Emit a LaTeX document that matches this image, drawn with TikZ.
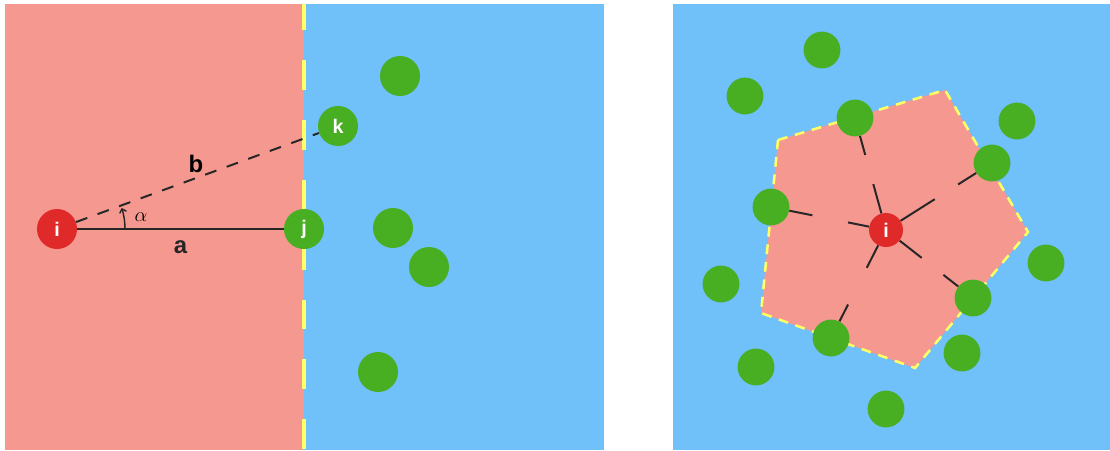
\documentclass[tikz,border=0pt]{standalone}
\usepackage{fontspec}
\setsansfont{Liberation Sans}
\usepackage{tikz}
\usetikzlibrary{calc,arrows.meta}
\definecolor{insidebg}{HTML}{F49890}
\definecolor{outsidebg}{HTML}{70C0FA}
\definecolor{nbgreen}{HTML}{48AE22}
\definecolor{refred}{HTML}{E02A2A}
\definecolor{edgeyellow}{HTML}{FFFF66}
\definecolor{linkgray}{HTML}{262626}

\begin{document}
\begin{tikzpicture}[x=0.025cm, y=-0.025cm,
  atom/.style={circle, inner sep=0pt, minimum size=1cm, text=white, font=\sffamily\bfseries\fontsize{14}{14}\selectfont},
  refatom/.style={atom, fill=refred},
  nbatom/.style={atom, fill=nbgreen},
  smallatom/.style={minimum size=0.92cm},
  link/.style={linkgray, line width=1.4pt},
  border/.style={edgeyellow, line width=2.8pt, dash pattern=on 21.3pt off 21.3pt, dash phase=2.85pt},
  lbl/.style={font=\sffamily\bfseries\fontsize{17}{17}\selectfont}]
  \useasboundingbox (0,0) rectangle (1110,450);

  % Left panel: flat interface
  \fill[insidebg] (5,4) rectangle (304,450);
  \fill[outsidebg] (304,4) rectangle (604,450);
  \draw[border] (304,4) -- (304,450);

  \node[refatom] (i) at (57,229) {i};
  \node[nbatom] (j) at (304,229) {j};
  \node[nbatom] (k) at (338,126) {k};
  \node[nbatom] (g1) at (400,76) {};
  \node[nbatom] (g2) at (393,228) {};
  \node[nbatom] (g3) at (429,267) {};
  \node[nbatom] (g4) at (378,372) {};

  \draw[link] (i) -- (j) node[lbl, midway, below=4pt] {a};
  \draw[link, dash pattern=on 8.5pt off 7.8pt] (i) -- (k);
  \node[lbl] (blbl) at (196,164) {b};
  \draw[linkgray, line width=1pt, -{Straight Barb[length=2.5pt, width=5pt]}] ($(i.center)+(68,0)$) arc[start angle=0, end angle=-18, radius=68];
  \node[font=\fontsize{14}{14}\selectfont] (alpha) at (141,217) {$\alpha$};

  % Right panel: Voronoi cell
  \fill[outsidebg] (673,4) rectangle (1110,450);
  \fill[insidebg] (778,140) -- (945,90) -- (1028,232) -- (915,368) -- (761,313) -- cycle;
  \draw[edgeyellow, line width=1.8pt, dash pattern=on 7pt off 5.5pt] (778,140) -- (945,90) -- (1028,232) -- (915,368) -- (761,313) -- cycle;

  \node[refatom, minimum size=0.85cm] (ri) at (886,230) {i};
  \foreach \name/\pos in {n1/{822,50}, n2/{745,96}, n3/{855,118}, n4/{1017,121}, n5/{992,163},
                          n6/{771,207}, n7/{1046,263}, n8/{721,284}, n9/{973,298}, n10/{831,338},
                          n11/{962,353}, n12/{756,367}, n13/{886,409}}
    \node[nbatom, smallatom] (\name) at (\pos) {};

  \foreach \name/\cut/\resume in {n3/0.41/0.67, n5/0.46/0.68, n6/0.33/0.64, n9/0.41/0.66, n10/0.35/0.69} {
    \draw[link] (ri) -- ($(ri)!\cut!(\name)$);
    \draw[link] ($(ri)!\resume!(\name)$) -- (\name);
  }
\end{tikzpicture}
\end{document}
